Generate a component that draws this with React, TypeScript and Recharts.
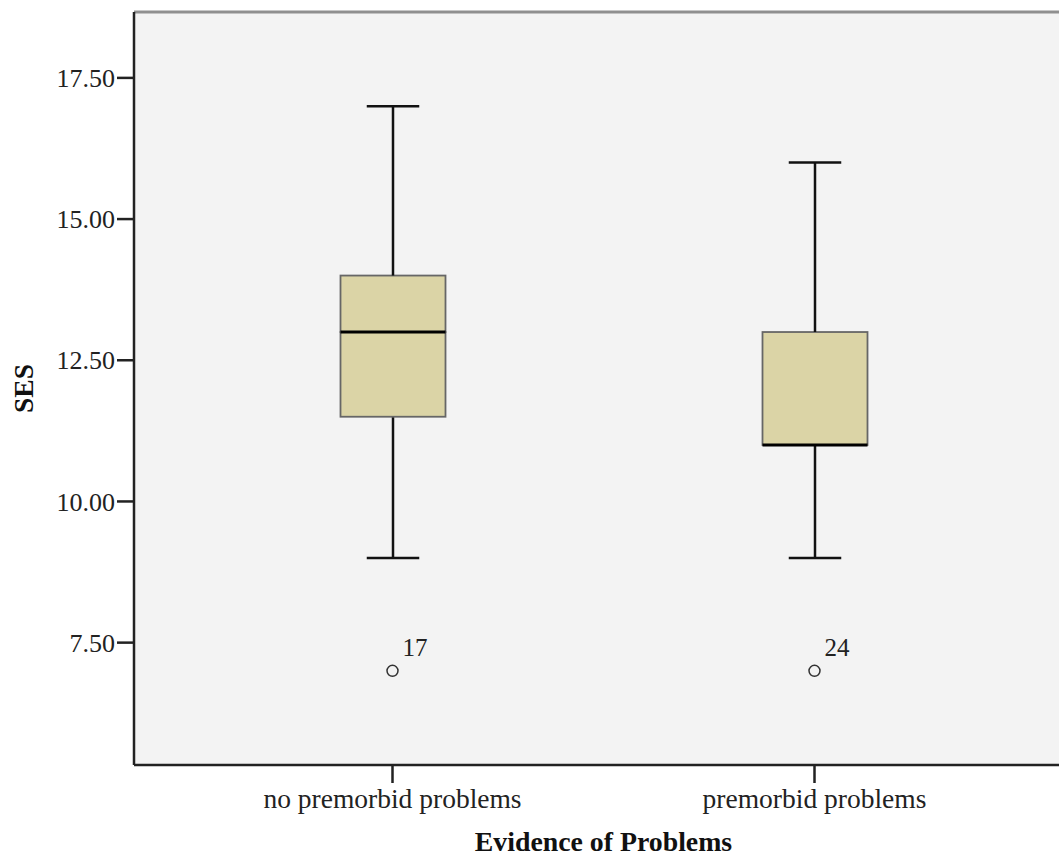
import React from 'react';
import { ComposedChart, Bar, Scatter, XAxis, YAxis, CartesianGrid, ReferenceLine, Label } from 'recharts';

const categories = ['no premorbid problems', 'premorbid problems'];
const whiskerLow = [9, 9];
const quartile1 = [11.5, 11];
const medians = [13, 11];
const quartile3 = [14, 13];
const whiskerHigh = [17, 16];
const outlierValues = [7, 7];
const outlierLabels = ['17', '24'];
const yTicks = [7.5, 10, 12.5, 15, 17.5];
const yDomain = [5.3333, 18.6667];

const data = categories.map((name, i) => ({
  name,
  base: whiskerLow[i],
  lowWhisker: quartile1[i] - whiskerLow[i],
  lowBox: medians[i] - quartile1[i],
  highBox: quartile3[i] - medians[i],
  highWhisker: whiskerHigh[i] - quartile3[i],
  outlier: outlierValues[i],
  outlierLabel: outlierLabels[i],
}));

const FONT = "'Times New Roman', 'Liberation Serif', serif";
const BOX_FILL = '#dbd4a6';
const BOX_STROKE = '#666';
const LINE = '#111';

const LowWhisker = (p: any) => {
  const { x, y, width, height } = p;
  if (x == null || y == null) return null;
  const cx = x + width / 2;
  return (
    <g>
      <line x1={cx} x2={cx} y1={y} y2={y + height} stroke={LINE} strokeWidth={2.5} />
      <line x1={cx - width / 4} x2={cx + width / 4} y1={y + height} y2={y + height} stroke={LINE} strokeWidth={2.5} />
    </g>
  );
};

const HighWhisker = (p: any) => {
  const { x, y, width, height } = p;
  if (x == null || y == null) return null;
  const cx = x + width / 2;
  return (
    <g>
      <line x1={cx} x2={cx} y1={y} y2={y + height} stroke={LINE} strokeWidth={2.5} />
      <line x1={cx - width / 4} x2={cx + width / 4} y1={y} y2={y} stroke={LINE} strokeWidth={2.5} />
    </g>
  );
};

const LowBox = (p: any) => {
  const { x, y, width, height } = p;
  if (x == null || y == null || !height) return null;
  return <rect x={x} y={y} width={width} height={height} fill={BOX_FILL} stroke={BOX_STROKE} strokeWidth={1.8} />;
};

const HighBox = (p: any) => {
  const { x, y, width, height } = p;
  if (x == null || y == null) return null;
  return (
    <g>
      <rect x={x} y={y} width={width} height={height} fill={BOX_FILL} stroke={BOX_STROKE} strokeWidth={1.8} />
      <line x1={x} x2={x + width} y1={y + height} y2={y + height} stroke="#000" strokeWidth={3} />
    </g>
  );
};

const Outlier = (p: any) => {
  const { cx, cy, payload } = p;
  if (cx == null || cy == null) return null;
  return (
    <g>
      <circle cx={cx} cy={cy} r={5.5} fill="none" stroke="#333" strokeWidth={1.5} />
      <text x={cx + 10} y={cy - 14.5} fontFamily={FONT} fontSize={25} fill="#222">
        {payload.outlierLabel}
      </text>
    </g>
  );
};

const YTitle = (p: any) => {
  const vb = p.viewBox || {};
  const cy = vb.y + vb.height / 2;
  const x = vb.x + 33;
  return (
    <text x={x} y={cy} transform={`rotate(-90, ${x}, ${cy})`} textAnchor="middle" fontFamily={FONT} fontWeight="bold" fontSize={27.5} fill="#111">
      SES
    </text>
  );
};

export default function App() {
  return (
    <div style={{ position: 'absolute', left: 0, top: 0, width: 1059, height: 859, overflow: 'hidden', background: '#fff' }}>
      <ComposedChart width={1073} height={859} data={data} margin={{ top: 12, right: 0, bottom: 0, left: 0 }}>
        <CartesianGrid fill="#f3f3f3" horizontal={false} vertical={false} />
        <XAxis
          dataKey="name"
          type="category"
          height={94}
          padding={{ left: 47.5, right: 47.5 }}
          axisLine={{ stroke: '#222', strokeWidth: 2.5 }}
          tickLine={{ stroke: '#222', strokeWidth: 2.5 }}
          tickSize={18}
          tickMargin={5}
          tick={{ fontFamily: FONT, fontSize: 27.5, fill: '#222' }}
        >
          <Label value="Evidence of Problems" position="insideBottom" offset={8} style={{ fontFamily: FONT, fontWeight: 'bold', fontSize: 27.8, fill: '#111' }} />
        </XAxis>
        <YAxis
          type="number"
          width={134}
          domain={yDomain}
          allowDataOverflow
          ticks={yTicks}
          tickFormatter={(v: number) => v.toFixed(2)}
          axisLine={{ stroke: '#222', strokeWidth: 2.5 }}
          tickLine={{ stroke: '#222', strokeWidth: 2.5 }}
          tickSize={17}
          tickMargin={2}
          tick={{ fontFamily: FONT, fontSize: 26, fill: '#222' }}
        >
          <Label content={YTitle} />
        </YAxis>
        <ReferenceLine y={yDomain[1]} stroke="#8f8f8f" strokeWidth={3} />
        <Bar dataKey="base" stackId="box" barSize={105} fill="none" isAnimationActive={false} shape={() => null} />
        <Bar dataKey="lowWhisker" stackId="box" barSize={105} isAnimationActive={false} shape={LowWhisker} />
        <Bar dataKey="lowBox" stackId="box" barSize={105} isAnimationActive={false} shape={LowBox} />
        <Bar dataKey="highBox" stackId="box" barSize={105} isAnimationActive={false} shape={HighBox} />
        <Bar dataKey="highWhisker" stackId="box" barSize={105} isAnimationActive={false} shape={HighWhisker} />
        <Scatter dataKey="outlier" isAnimationActive={false} shape={Outlier} />
      </ComposedChart>
    </div>
  );
}
